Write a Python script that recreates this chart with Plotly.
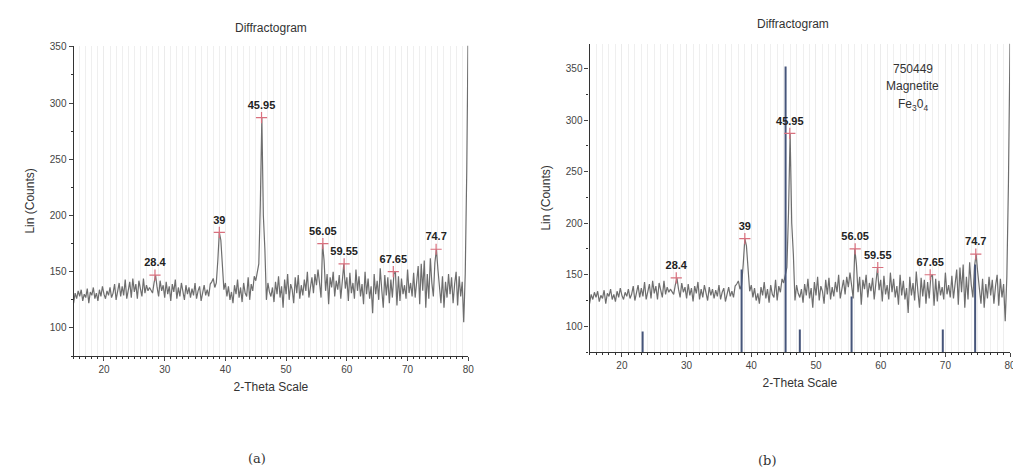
import numpy as np
import plotly.graph_objects as go

# ---- data ----
x_start = 15.0
x_step = 0.25
counts = [
    122, 131, 126, 133,  128, 134, 124, 130,  127, 135, 122, 132,  129, 136, 126, 131,
    124, 134, 128, 137,  130, 126, 133, 129,  136, 127, 131, 139,  125, 134, 140, 128,
    137, 129, 143, 126,  135, 141, 127, 144,  132, 139, 126, 142,  135, 128, 144, 131,
    138, 133, 136, 134,  131, 140, 147, 136,  128, 142, 133, 138,  127, 141, 130, 137,
    124, 139, 132, 143,  126, 136, 128, 140,  133, 125, 138, 130,  136, 127, 135, 129,
    140, 126, 133, 137,  124, 131, 138, 129,  134, 128, 139, 141,  144, 136, 140, 160,
    185, 178, 150, 134,  140, 128, 137, 125,  132, 122, 138, 130,  143, 127, 136, 123,
    140, 131, 128, 145,  125, 139, 133, 146,  142, 150, 157, 210,  287, 200, 170, 125,
    140, 132, 128, 136,  123, 141, 130, 146,  127, 137, 118, 143,  130, 148, 125, 139,
    134, 122, 145, 131,  147, 126, 138, 129,  143, 133, 150, 127,  136, 145, 131, 148,
    138, 152, 140, 127,  175, 160, 133, 148,  121, 145, 136, 150,  128, 142, 134, 147,
    126, 139, 157, 135,  145, 124, 149, 131,  140, 126, 152, 133,  146, 128, 139, 121,
    150, 130, 144, 126,  137, 113, 148, 130,  142, 125, 153, 134,  118, 147, 129, 145,
    122, 143, 127, 148,  150, 120, 146, 124,  144, 130, 138, 126,  152, 131, 140, 128,
    149, 127, 143, 155,  121, 157, 133, 160,  118, 148, 126, 162,  140, 128, 158, 170,
    152, 135, 122, 146,  118, 141, 127, 148,  130, 145, 122, 139,  150, 120, 146, 128,
    141, 105, 148, 240,  380,
]
two_theta = x_start + x_step * np.arange(len(counts))

peak_x = [28.4, 39, 45.95, 56.05, 59.55, 67.65, 74.7]
peak_y = [147, 185, 287, 175, 157, 150, 170]
peak_labels = ["28.4", "39", "45.95", "56.05", "59.55", "67.65", "74.7"]

stick_x = [23.2, 38.5, 45.3, 47.5, 55.5, 69.6, 74.6]
stick_h = [95, 155, 352, 97, 129, 97, 160]
stick_base = 75

x_ticks = [20, 30, 40, 50, 60, 70, 80]
y_ticks_a = [100, 150, 200, 250, 300, 350]
y_ticks_b = [100, 150, 200, 250, 300, 350]

FONT = "Liberation Sans, Arial, sans-serif"
TRACE_COLOR = "#6e6e6e"
STICK_COLOR = "#46557a"
PEAK_COLOR = "#d9707e"

fig = go.Figure()

for xa, ya in [("x", "y"), ("x2", "y2")]:
    fig.add_trace(go.Scatter(x=two_theta, y=counts, mode="lines",
                             line=dict(color=TRACE_COLOR, width=1.2),
                             xaxis=xa, yaxis=ya, showlegend=False, hoverinfo="skip"))

# reference sticks (panel b)
sx, sy = [], []
for xv, hv in zip(stick_x, stick_h):
    sx += [xv, xv, None]
    sy += [stick_base, hv, None]
fig.add_trace(go.Scatter(x=sx, y=sy, mode="lines", line=dict(color=STICK_COLOR, width=2),
                         xaxis="x2", yaxis="y2", showlegend=False, hoverinfo="skip"))

for xa, ya in [("x", "y"), ("x2", "y2")]:
    fig.add_trace(go.Scatter(x=peak_x, y=peak_y, mode="markers+text",
                             marker=dict(symbol="cross-thin", size=8,
                                         line=dict(color=PEAK_COLOR, width=1.2)),
                             text=["<b>%s</b>" % t for t in peak_labels],
                             textposition="top center",
                             textfont=dict(family=FONT, size=11, color="#222"),
                             xaxis=xa, yaxis=ya, showlegend=False, hoverinfo="skip"))

W, H = 1021, 470
def px(v):
    return v / W
def py(v):
    return 1 - v / H

xcommon = dict(range=[15, 80], tickvals=x_ticks, ticks="outside", ticklen=4,
               showline=True, linecolor="#333", linewidth=1.2, mirror=False,
               showgrid=True, gridcolor="#ebebeb", gridwidth=1, zeroline=False,
               tickfont=dict(family=FONT, size=10, color="#444"),
               minor=dict(dtick=1, tick0=15, ticks="outside", ticklen=2, tickcolor="#333",
                          showgrid=True, gridcolor="#efefef", gridwidth=1),
               title=dict(text="2-Theta Scale", font=dict(family=FONT, size=12, color="#333"),
                          standoff=8))
ycommon = dict(ticks="outside", ticklen=4, showline=True, linecolor="#333", linewidth=1.2,
               showgrid=False, zeroline=False,
               tickfont=dict(family=FONT, size=10, color="#444"),
               minor=dict(dtick=25, ticks="outside", ticklen=2, tickcolor="#333"),
               title=dict(text="Lin (Counts)", font=dict(family=FONT, size=12, color="#333"),
                          standoff=12))

fig.update_layout(
    width=W, height=H, margin=dict(l=0, r=0, t=0, b=0),
    paper_bgcolor="white", plot_bgcolor="white",
    xaxis=dict(domain=[px(66), px(463)], anchor="y", **xcommon),
    yaxis=dict(domain=[py(347), py(34)], anchor="x", range=[75, 351],
               tickvals=y_ticks_a, **ycommon),
    xaxis2=dict(domain=[px(585), px(1008)], anchor="y2", **xcommon),
    yaxis2=dict(domain=[py(343), py(32)], anchor="x2", range=[75, 374],
                tickvals=y_ticks_b, **ycommon),
)

annots = [
    dict(text="Diffractogram", x=px(265), y=py(16)),
    dict(text="Diffractogram", x=px(790), y=py(12)),
    dict(text="750449", x=px(910), y=py(57)),
    dict(text="Magnetite", x=px(910), y=py(75)),
    dict(text="Fe<sub>3</sub>0<sub>4</sub>", x=px(910), y=py(94)),
]
for a in annots:
    fig.add_annotation(xref="paper", yref="paper", showarrow=False,
                       font=dict(family=FONT, size=12, color="#333"),
                       xanchor="center", yanchor="middle", **a)

for t, xx, yy in [("(a)", 250, 450), ("(b)", 763, 452)]:
    fig.add_annotation(text=t, xref="paper", yref="paper", x=px(xx), y=py(yy),
                       showarrow=False, xanchor="center", yanchor="middle",
                       font=dict(family="DejaVu Serif, serif", size=13, color="#333"))

fig.write_html("out.html")
